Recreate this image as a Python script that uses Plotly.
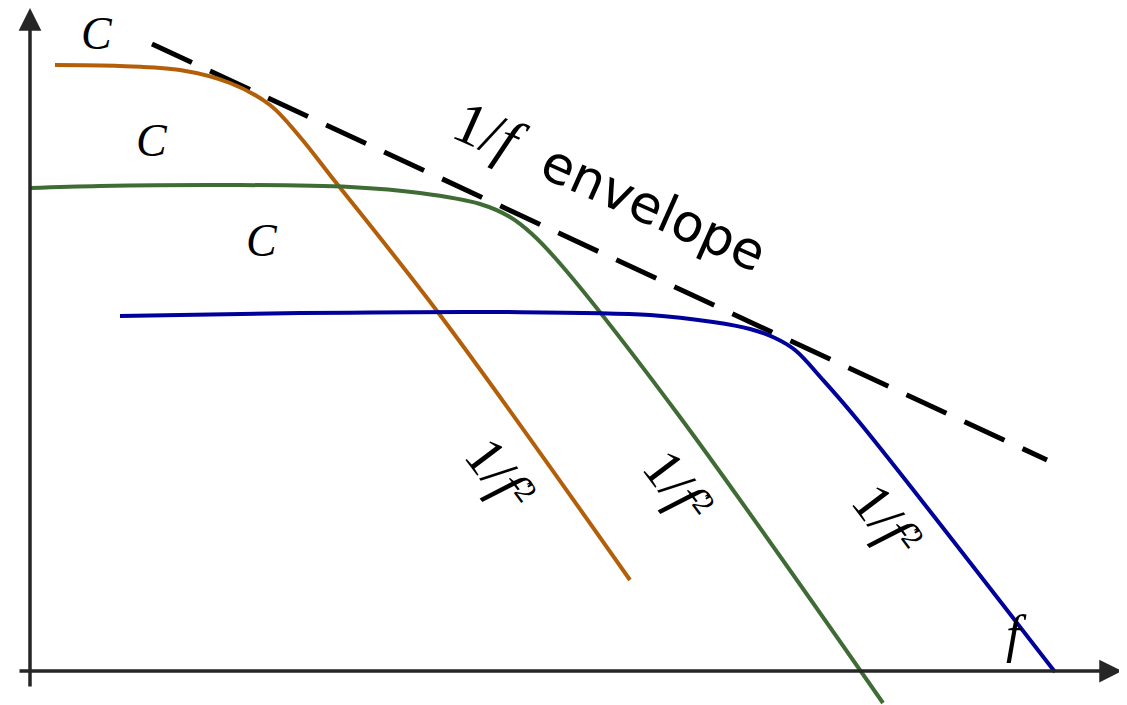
import plotly.graph_objects as go

# Curve samples (figure pixel coordinates)
orange_x = [55, 120, 180, 230, 270, 300, 330, 440, 630]
orange_y = [65, 66, 70, 83, 105, 137, 175, 315, 580]

green_x = [30, 100, 230, 350, 420, 480, 510, 532, 563, 677, 883]
green_y = [188, 186, 185, 187, 193, 204, 217, 234, 267, 413, 703]

blue_x = [120, 300, 500, 650, 713, 750, 775, 795, 823, 860, 1055]
blue_y = [316, 313, 312, 315, 322, 329, 338, 350, 380, 423, 672]

env_x = [152, 1047]
env_y = [44, 460]

c_labels_x = [97, 152, 262]
c_labels_y = [33, 140, 240]

f2_labels_x = [500, 678, 887]
f2_labels_y = [474, 486, 520]

OFF = 8  # page body margin

fig = go.Figure()

fig.add_trace(go.Scatter(x=env_x, y=env_y, mode="lines",
                         line=dict(color="black", width=5, dash="44px,20px")))
fig.add_trace(go.Scatter(x=orange_x, y=orange_y, mode="lines",
                         line=dict(color="#b35f0a", width=4, shape="spline", smoothing=1)))
fig.add_trace(go.Scatter(x=green_x, y=green_y, mode="lines",
                         line=dict(color="#3f6b35", width=4, shape="spline", smoothing=1)))
fig.add_trace(go.Scatter(x=blue_x, y=blue_y, mode="lines",
                         line=dict(color="#00009a", width=4, shape="spline", smoothing=1)))

serif = "Liberation Serif"
# axes with arrows
fig.add_annotation(x=30, y=8, ax=30, ay=688, xref="x", yref="y", axref="x", ayref="y",
                   showarrow=True, arrowhead=2, arrowsize=1.3, arrowwidth=3.5,
                   arrowcolor="#262626", text="")
fig.add_annotation(x=1122, y=671, ax=18, ay=671, xref="x", yref="y", axref="x", ayref="y",
                   showarrow=True, arrowhead=2, arrowsize=1.3, arrowwidth=3.5,
                   arrowcolor="#262626", text="")

for cx, cy in zip(c_labels_x, c_labels_y):
    fig.add_annotation(x=cx, y=cy, text="<i>C</i>", showarrow=False,
                       font=dict(family=serif, size=46, color="black"))

for fx, fy in zip(f2_labels_x, f2_labels_y):
    fig.add_annotation(x=fx, y=fy,
                       text="1/<i>f</i><span style='font-size:44px'><sup>2</sup></span>",
                       showarrow=False, textangle=53,
                       font=dict(family=serif, size=56, color="black"))

fig.add_annotation(x=1016, y=634, text="<i>f</i>", showarrow=False,
                   font=dict(family=serif, size=52, color="black"))

fig.add_annotation(x=610, y=186, showarrow=False, textangle=24,
                   text="<span style='font-family:Liberation Serif;font-size:60px'>1/<i>f</i></span>  envelope",
                   font=dict(family="DejaVu Sans", size=52, color="black"))

fig.update_layout(
    width=1127 - OFF, height=705 - OFF, margin=dict(l=0, r=0, t=0, b=0),
    paper_bgcolor="white", plot_bgcolor="white", showlegend=False,
    xaxis=dict(range=[OFF, 1127], visible=False, fixedrange=True),
    yaxis=dict(range=[705, OFF], visible=False, fixedrange=True),
)

fig.write_html("out.html")
